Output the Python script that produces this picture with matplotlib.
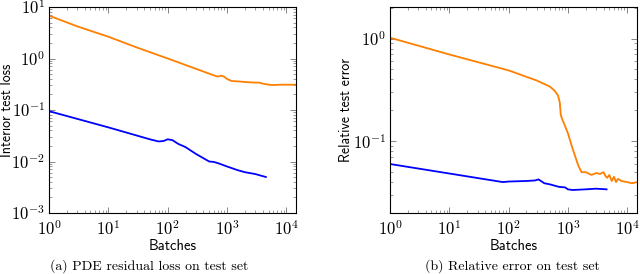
import matplotlib
matplotlib.use('Agg')
import matplotlib.pyplot as plt
from matplotlib.ticker import FuncFormatter, LogLocator, NullFormatter

plt.rcParams['mathtext.fontset'] = 'cm'

ORANGE = '#ff8000'
BLUE = '#0000ff'

# (a) PDE residual loss
a_orange_x = [1, 3, 10, 30, 100, 300, 600, 700, 800, 900, 1000, 1200, 1500, 2000, 3000, 3500, 4000, 5000, 6000, 8000, 10000, 15000]
a_orange_y = [6.8, 4.2, 2.65, 1.64, 1.0, 0.63, 0.47, 0.445, 0.465, 0.44, 0.40, 0.365, 0.36, 0.35, 0.34, 0.34, 0.325, 0.31, 0.305, 0.31, 0.31, 0.31]
a_blue_x = [1, 10, 50, 70, 85, 100, 120, 150, 200, 300, 500, 600, 700, 1000, 1500, 2000, 3000, 4500]
a_blue_y = [0.095, 0.046, 0.027, 0.0245, 0.025, 0.027, 0.026, 0.022, 0.019, 0.014, 0.0100, 0.0098, 0.0093, 0.0080, 0.0068, 0.0062, 0.0057, 0.0050]

# (b) relative error
b_orange_x = [1, 10, 100, 300, 500, 600, 680, 730, 760, 800, 900, 1000, 1200, 1500, 1700, 2000, 2500, 3000, 3500, 4000, 4300, 4600, 5000, 5500, 6000, 6500, 7000, 8000, 10000, 12000, 15000]
b_orange_y = [1.02, 0.70, 0.49, 0.39, 0.34, 0.31, 0.28, 0.24, 0.18, 0.165, 0.14, 0.12, 0.085, 0.058, 0.050, 0.050, 0.047, 0.049, 0.048, 0.050, 0.046, 0.044, 0.047, 0.041, 0.045, 0.040, 0.043, 0.041, 0.040, 0.039, 0.040]
b_blue_x = [1, 10, 80, 100, 200, 280, 320, 400, 500, 700, 900, 1000, 1200, 2000, 3000, 4500]
b_blue_y = [0.060, 0.0485, 0.040, 0.0405, 0.041, 0.0415, 0.0425, 0.039, 0.038, 0.036, 0.0355, 0.034, 0.0335, 0.034, 0.0345, 0.034]


def powfmt(v, pos):
    import math
    e = int(round(math.log10(v)))
    return r'$10^{%d}$' % e


fig = plt.figure(figsize=(6.4, 2.74), dpi=100)
ax1 = fig.add_axes([49/640, 1-213/274, 247/640, 206/274])
ax2 = fig.add_axes([390/640, 1-213/274, 246.7/640, 206/274])

ax1.plot(a_orange_x, a_orange_y, color=ORANGE, lw=1.3)
ax1.plot(a_blue_x, a_blue_y, color=BLUE, lw=1.3)
ax2.plot(b_orange_x, b_orange_y, color=ORANGE, lw=1.3)
ax2.plot(b_blue_x, b_blue_y, color=BLUE, lw=1.3)

for ax in (ax1, ax2):
    ax.set_xscale('log')
    ax.set_yscale('log')
    ax.set_xlim(1, 1.45e4)
    ax.xaxis.set_major_locator(LogLocator(base=10, numticks=10))
    ax.xaxis.set_minor_locator(LogLocator(base=10, subs=range(2, 10), numticks=20))
    ax.xaxis.set_major_formatter(FuncFormatter(powfmt))
    ax.xaxis.set_minor_formatter(NullFormatter())
    ax.yaxis.set_major_formatter(FuncFormatter(powfmt))
    ax.yaxis.set_minor_formatter(NullFormatter())
    ax.tick_params(which='both', direction='in', top=True, right=True, labelsize=12, color='0.45')
    ax.tick_params(which='major', length=4, width=0.6)
    ax.tick_params(which='minor', length=2, width=0.5)
    ax.tick_params(axis='y', pad=3)
    ax.tick_params(axis='x', pad=5)
    for s in ax.spines.values():
        s.set_linewidth(0.8)
    ax.set_xlabel('Batches', family='cmss10', fontsize=10.5, labelpad=0)

ax1.set_ylim(1e-3, 1e1)
ax1.yaxis.set_minor_locator(LogLocator(base=10, subs=range(2, 10), numticks=20))
ax1.set_ylabel('Interior test loss', family='cmss10', fontsize=10)
ax1.yaxis.set_label_coords(-0.142, 0.5)

ax2.set_ylim(0.02, 2.03)
ax2.yaxis.set_minor_locator(LogLocator(base=10, subs=range(2, 10), numticks=20))
ax2.set_ylabel('Relative test error', family='cmss10', fontsize=10)
ax2.yaxis.set_label_coords(-0.15, 0.5)

fig.text(149/640, 1-266/274, '(a) PDE residual loss on test set', family='cmr10', fontsize=10, ha='center', va='center')
fig.text(512/640, 1-266/274, '(b) Relative error on test set', family='cmr10', fontsize=10, ha='center', va='center')

plt.savefig('out.png', dpi=100)
